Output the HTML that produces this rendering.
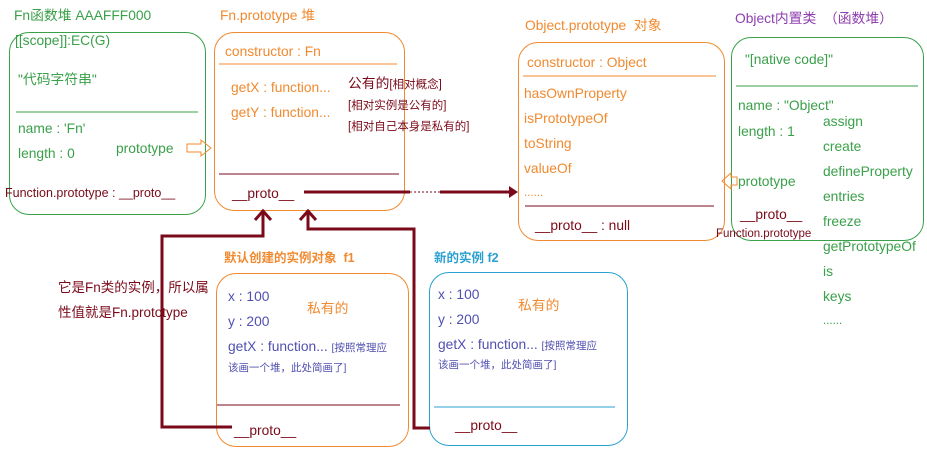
<!DOCTYPE html>
<html><head><meta charset="utf-8"><style>
body{margin:0;width:927px;height:453px;background:#fff;position:relative;overflow:hidden;font-family:"Liberation Sans","Noto Sans CJK SC",sans-serif;}
.t{position:absolute;white-space:nowrap;font-size:13.8px;line-height:15px;}
.g{color:#3aa04a}.o{color:#f08a30}.r{color:#7a0a1a}.b{color:#5050b0}.c{color:#2aa0d0}.p{color:#9040b0}
.box{position:absolute;border:1px solid;border-radius:20px;box-sizing:border-box;}
.s{font-size:11.5px}
</style></head><body>
<div class="box" style="left:9px;top:32px;width:197px;height:183px;border-color:#3aa04a"></div>
<div class="box" style="left:214px;top:32px;width:191px;height:179px;border-color:#f08a30"></div>
<div class="box" style="left:518px;top:42px;width:207px;height:199px;border-color:#f08a30"></div>
<div class="box" style="left:731px;top:37px;width:193px;height:204px;border-color:#3aa04a"></div>
<div class="box" style="left:216px;top:273px;width:193px;height:174px;border-color:#f08a30"></div>
<div class="box" style="left:429px;top:272px;width:199px;height:174px;border-color:#2aa0d0"></div>

<svg width="927" height="453" style="position:absolute;left:0;top:0">
<line x1="16" y1="112" x2="198" y2="112" stroke="#3aa04a"/>
<line x1="219" y1="64" x2="397" y2="64" stroke="#f08a30"/>
<line x1="219" y1="174" x2="399" y2="174" stroke="#7a0a1a"/>
<line x1="523" y1="76" x2="716" y2="76" stroke="#f08a30"/>
<line x1="525" y1="206" x2="714" y2="206" stroke="#7a0a1a"/>
<line x1="736" y1="86" x2="918" y2="86" stroke="#3aa04a"/>
<line x1="217" y1="405" x2="400" y2="405" stroke="#7a0a1a"/>
<line x1="434" y1="407" x2="615" y2="407" stroke="#2aa0d0"/>
<path d="M187 144 h14 v-4 l10 8 l-10 8 v-4 h-14z" fill="none" stroke="#f08a30"/>
<path d="M737 177 h-6 v-4 l-9 8 l9 8 v-4 h6z" fill="none" stroke="#f08a30"/>
<g stroke="#7a0a1a" stroke-width="3" fill="none">
<line x1="304" y1="192" x2="410" y2="192"/>
<line x1="440" y1="192" x2="510" y2="192"/>
<polyline points="232,427 162,427 162,236 263,236 263,212"/>
<polyline points="430,428 414,428 414,229 308,229 308,212"/>
<polyline points="255,220 263,211 271,220"/>
<polyline points="300,220 308,211 316,220"/>
</g>
<line x1="410" y1="192" x2="440" y2="192" stroke="#7a0a1a" stroke-dasharray="2,2"/>
<path d="M518 192 l-9 -6 v12z" fill="#7a0a1a"/>
</svg>

<div class="t g" style="left:14px;top:8px">Fn函数堆 AAAFFF000</div>
<div class="t g" style="left:15px;top:33px">[[scope]]:EC(G)</div>
<div class="t g" style="left:18px;top:72px">"代码字符串"</div>
<div class="t g" style="left:18px;top:121px">name : 'Fn'</div>
<div class="t g" style="left:18px;top:146px">length : 0</div>
<div class="t g" style="left:116px;top:141px">prototype</div>
<div class="t r" style="left:5px;top:186px;font-size:12.5px">Function.prototype : __proto__</div>

<div class="t o" style="left:220px;top:8px">Fn.prototype 堆</div>
<div class="t o" style="left:225px;top:44px">constructor : Fn</div>
<div class="t o" style="left:231px;top:80px">getX : function...</div>
<div class="t o" style="left:231px;top:105px">getY : function...</div>
<div class="t r" style="left:348px;top:76px">公有的<span class="s">[相对概念]</span></div>
<div class="t r s" style="left:348px;top:99px">[相对实例是公有的]</div>
<div class="t r s" style="left:348px;top:120px">[相对自己本身是私有的]</div>
<div class="t r" style="left:232px;top:186px">__proto__</div>

<div class="t o" style="left:525px;top:18px">Object.prototype &nbsp;对象</div>
<div class="t o" style="left:527px;top:55px">constructor : Object</div>
<div class="t o" style="left:524px;top:86px">hasOwnProperty</div>
<div class="t o" style="left:524px;top:111px">isPrototypeOf</div>
<div class="t o" style="left:524px;top:136px">toString</div>
<div class="t o" style="left:524px;top:161px">valueOf</div>
<div class="t o s" style="left:524px;top:186px">......</div>
<div class="t r" style="left:535px;top:218px">__proto__ : null</div>

<div class="t p" style="left:735px;top:11px">Object内置类 &nbsp;（函数堆）</div>
<div class="t g" style="left:745px;top:52px">"[native code]"</div>
<div class="t g" style="left:738px;top:98px">name : "Object"</div>
<div class="t g" style="left:738px;top:124px">length : 1</div>
<div class="t g" style="left:738px;top:174px">prototype</div>
<div class="t r" style="left:740px;top:207px">__proto__</div>
<div class="t r s" style="left:716px;top:227px">Function.prototype</div>
<div class="t g" style="left:823px;top:114px">assign</div>
<div class="t g" style="left:823px;top:139px">create</div>
<div class="t g" style="left:823px;top:164px">defineProperty</div>
<div class="t g" style="left:823px;top:189px">entries</div>
<div class="t g" style="left:823px;top:214px">freeze</div>
<div class="t g" style="left:823px;top:239px">getPrototypeOf</div>
<div class="t g" style="left:823px;top:264px">is</div>
<div class="t g" style="left:823px;top:289px">keys</div>
<div class="t g s" style="left:823px;top:314px">......</div>

<div class="t o" style="left:224px;top:251px;font-weight:bold;font-size:12.5px">默认创建的实例对象 &nbsp;f1</div>
<div class="t b" style="left:228px;top:289px">x : 100</div>
<div class="t b" style="left:228px;top:314px">y : 200</div>
<div class="t o" style="left:307px;top:301px">私有的</div>
<div class="t b" style="left:228px;top:339px">getX : function... <span style="font-size:10.5px">[按照常理应</span></div>
<div class="t b" style="left:228px;top:361px;font-size:10.5px">该画一个堆，此处简画了]</div>
<div class="t r" style="left:234px;top:423px">__proto__</div>

<div class="t c" style="left:434px;top:251px;font-weight:bold;font-size:12.5px">新的实例 f2</div>
<div class="t b" style="left:438px;top:287px">x : 100</div>
<div class="t b" style="left:438px;top:312px">y : 200</div>
<div class="t o" style="left:518px;top:298px">私有的</div>
<div class="t b" style="left:438px;top:337px">getX : function... <span style="font-size:10.5px">[按照常理应</span></div>
<div class="t b" style="left:438px;top:358px;font-size:10.5px">该画一个堆，此处简画了]</div>
<div class="t r" style="left:455px;top:418px">__proto__</div>

<div class="t r" style="left:58px;top:280px;font-size:13.5px">它是Fn类的实例，所以属</div>
<div class="t r" style="left:58px;top:305px;font-size:13.5px">性值就是Fn.prototype</div>
</body></html>
